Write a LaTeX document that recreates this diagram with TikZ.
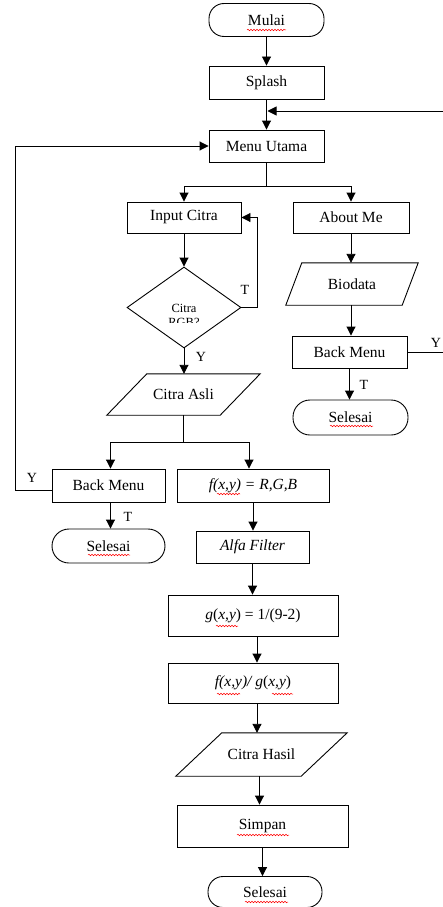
\documentclass[tikz,border=0pt]{standalone}
\usepackage{fontspec}
\setmainfont{Liberation Serif}
\usetikzlibrary{arrows.meta,shapes.geometric,decorations.pathmorphing}
\newcommand{\iopara}[2]{\draw[line width=0.9pt] ([xshift=#2]#1.north west) -- (#1.north east) -- ([xshift=-#2]#1.south east) -- (#1.south west) -- cycle;}
\begin{document}
\begin{tikzpicture}[x=1pt,y=-1pt,
  font=\fontsize{15.5}{17}\selectfont,
  proc/.style={draw,line width=0.9pt,rectangle,inner sep=0pt},
  term/.style={draw,line width=0.9pt,rectangle,rounded corners=15pt,inner sep=0pt},
  iobox/.style={rectangle,inner sep=0pt},
  arr/.style={line width=0.9pt,-{Triangle[length=9pt,width=9pt]}},
  ln/.style={line width=0.9pt},
  lbl/.style={inner sep=0pt,font=\fontsize{14}{15}\selectfont},
  squig/.style={red,line width=0.5pt,decorate,decoration={snake,amplitude=0.8pt,segment length=3pt}}]
\useasboundingbox (0,0) rectangle (443,907);
% nodes
\node[term,minimum width=115pt,minimum height=33pt] (mulai) at (266.5,20) {Mulai};
\node[proc,minimum width=115pt,minimum height=33pt] (splash) at (266.5,82.5) {Splash};
\node[proc,minimum width=115pt,minimum height=32pt] (menu) at (266.5,146) {Menu Utama};
\node[proc,minimum width=114pt,minimum height=31pt] (input) at (184,217.5) {Input Citra};
\node[proc,minimum width=116pt,minimum height=31pt] (about) at (351,217.5) {About Me};
\node[draw,line width=0.9pt,diamond,minimum width=114pt,minimum height=81pt,inner sep=0pt] (dia) at (184,307.5) {};
\begin{scope}
  \clip (120,260) rectangle (250,322);
  \node[inner sep=0pt,align=center,font=\fontsize{12.5}{14}\selectfont] (diat) at (184,315) {Citra\\RGB?};
\end{scope}
\node[iobox,minimum width=153pt,minimum height=41pt] (ca) at (183.5,394.5) {Citra Asli};
\iopara{ca}{40pt}
\node[iobox,minimum width=132pt,minimum height=42pt] (bio) at (352,284) {Biodata};
\iopara{bio}{16pt}
\node[proc,minimum width=115pt,minimum height=32pt] (bm2) at (349.5,352) {Back Menu};
\node[term,minimum width=115pt,minimum height=35pt,rounded corners=17pt] (sel2) at (350.5,417.5) {Selesai};
\node[proc,minimum width=113pt,minimum height=33pt] (bm1) at (108.5,485.5) {Back Menu};
\node[proc,minimum width=152pt,minimum height=33pt] (fxy) at (253,485.5) {\itshape f(x,y) = R,G,B};
\node[term,minimum width=113pt,minimum height=34pt,rounded corners=17pt] (sel1) at (108.5,546) {Selesai};
\node[proc,minimum width=113pt,minimum height=32pt] (alfa) at (252.5,547) {\itshape Alfa Filter};
\node[proc,minimum width=170pt,minimum height=41pt] (gxy) at (253,615.5) {\itshape g\upshape(\itshape x,y\upshape) = 1/(9-2)};
\node[proc,minimum width=170pt,minimum height=40pt] (fg) at (253,683) {\itshape f(x,y)/ g\upshape(\itshape x,y\upshape)};
\node[iobox,minimum width=171pt,minimum height=43pt] (hasil) at (261.5,754.5) {Citra Hasil};
\iopara{hasil}{46pt}
\node[proc,minimum width=171pt,minimum height=42pt] (simpan) at (262.5,826) {Simpan};
\node[term,minimum width=114pt,minimum height=31pt] (sel3) at (265,892) {Selesai};
% connectors
\draw[arr] (mulai) -- (splash);
\draw[arr] (splash) -- (menu);
\coordinate (j1) at (splash.south |- 0,111);
\draw[arr] (bm2.east) -- (446,352) |- ([xshift=1pt]j1);
\draw[arr] ([yshift=-4.5pt]bm1.west) -- (15,490) |- (menu.west);
\draw[ln] (menu.south) -- ++(0,24) coordinate (s1);
\draw[arr] (s1) -| (input.north);
\draw[arr] (s1) -| (about.north);
\draw[arr] (input) -- (dia);
\draw[arr] (dia.east) -- (257,307.5) |- (input.east);
\draw[arr] (dia.south) -- (dia.south |- ca.north);
\draw[ln] (ca.south) -- ++(0,27.5) coordinate (s2);
\draw[arr] (s2) -| ([xshift=2pt]bm1.north);
\draw[arr] (s2) -| ([xshift=-4pt]fxy.north);
\draw[arr] (about) -- (bio.north -| about.south);
\draw[arr] (bio.south -| about.south) -- (bm2.north -| about.south);
\draw[arr] (bm2.south) -- (sel2.north -| bm2.south);
\draw[arr] ([xshift=2pt]bm1.south) -- ([xshift=2pt]sel1.north);
\draw[arr] (fxy.south) -- (fxy.south |- alfa.north);
\draw[arr] (alfa) -- (alfa |- gxy.north);
\draw[arr] ([xshift=4pt]gxy.south) -- ([xshift=4pt]fg.north);
\coordinate (fgo) at ([xshift=4pt]fg.south);
\draw[arr] (fgo) -- (hasil.north -| fgo);
\coordinate (hso) at ([xshift=-2pt]hasil.south);
\draw[arr] (hso) -- (simpan.north -| hso);
\draw[arr] (simpan) -- (simpan |- sel3.north);
% labels
\node[lbl] (lt1) at (245,290) {T};
\node[lbl] (ly1) at (201,357) {Y};
\node[lbl] (ly2) at (436,343) {Y};
\node[lbl] (lt2) at (364,385) {T};
\node[lbl] (ly3) at (32,478) {Y};
\node[lbl] (lt3) at (128,517) {T};
% spell-check squiggles
\draw[squig] (247,30) -- (286,30);
\draw[squig] (330,426) -- (373,426);
\draw[squig] (88,555) -- (130,555);
\draw[squig] (217,494) -- (240,494);
\draw[squig] (216,626) -- (238,626);
\draw[squig] (217,694) -- (240,694);
\draw[squig] (272,694) -- (293,694);
\draw[squig] (237,835) -- (289,835);
\draw[squig] (245,902) -- (288,902);
\end{tikzpicture}
\end{document}
